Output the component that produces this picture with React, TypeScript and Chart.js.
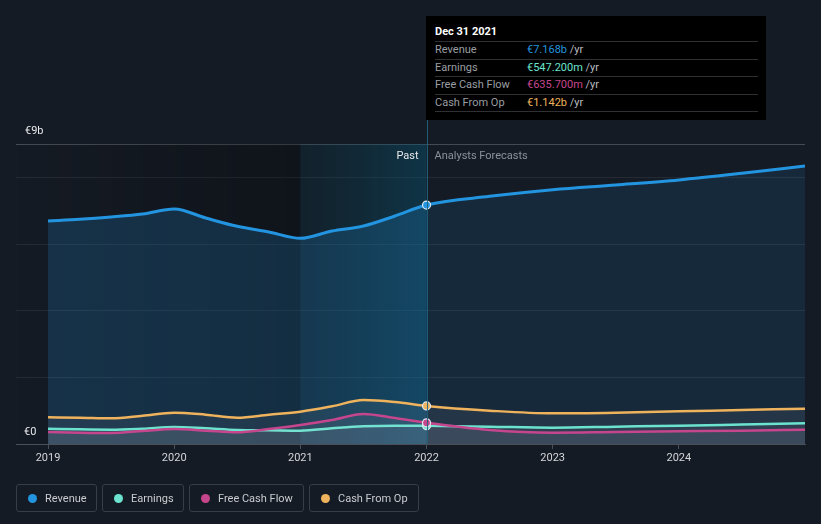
import React, { useEffect, useRef } from "react";
import { Chart, registerables } from "chart.js";

Chart.register(...registerables);

const years = [2019, 2019.25, 2019.5, 2019.75, 2020, 2020.25, 2020.5, 2020.75, 2021, 2021.25, 2021.5, 2021.75, 2022, 2022.5, 2023, 2023.5, 2024, 2024.5, 2025];
const revenue = [6.69, 6.74, 6.81, 6.9, 7.05, 6.78, 6.53, 6.36, 6.17, 6.39, 6.54, 6.84, 7.168, 7.43, 7.63, 7.77, 7.92, 8.12, 8.34];
const earnings = [0.46, 0.44, 0.43, 0.46, 0.51, 0.47, 0.42, 0.41, 0.4, 0.47, 0.53, 0.55, 0.547, 0.52, 0.49, 0.52, 0.55, 0.585, 0.62];
const freeCashFlow = [0.36, 0.34, 0.33, 0.39, 0.45, 0.4, 0.35, 0.45, 0.57, 0.72, 0.9, 0.78, 0.636, 0.42, 0.34, 0.36, 0.38, 0.4, 0.43];
const cashFromOp = [0.8, 0.79, 0.77, 0.85, 0.94, 0.88, 0.79, 0.88, 0.97, 1.13, 1.32, 1.26, 1.142, 1.0, 0.92, 0.94, 0.98, 1.02, 1.06];
const xTicks = [2019, 2020, 2021, 2022, 2023, 2024];
const yGrid = [0, 2, 4, 6, 8, 9];
const highlightYear = 2022;
const bandStart = 2021;

const seriesNames = ["Revenue", "Earnings", "Free Cash Flow", "Cash From Op"];
const seriesColors = ["#2394df", "#6ce3cf", "#c6468d", "#efb35d"];
const tooltipValues = ["€7.168b", "€547.200m", "€635.700m", "€1.142b"];
const legendWidths = [81, 82, 115, 110];

const BG = "#151b24";
const FONT = "Roboto, 'Noto Sans', sans-serif";

export default function App() {
  const canvasRef = useRef<HTMLCanvasElement | null>(null);

  useEffect(() => {
    document.body.style.margin = "0";
    document.body.style.background = BG;
    const canvas = canvasRef.current!;
    const toPts = (arr: number[]) => arr.map((v, i) => ({ x: years[i], y: v }));

    const overlay = {
      id: "overlay",
      beforeDatasetsDraw(chart: any) {
        const { ctx, chartArea, scales } = chart;
        const x = scales.x;
        const xb = x.getPixelForValue(bandStart);
        const xh = x.getPixelForValue(highlightYear);
        ctx.save();
        let g = ctx.createLinearGradient(chartArea.left, 0, xb, 0);
        g.addColorStop(0, "rgba(0,0,0,0)");
        g.addColorStop(1, "rgba(0,0,0,0.25)");
        ctx.fillStyle = g;
        ctx.fillRect(chartArea.left, chartArea.top, xb - chartArea.left, chartArea.bottom - chartArea.top);
        g = ctx.createLinearGradient(xb, 0, xh, 0);
        g.addColorStop(0, "rgba(10,60,80,0.2)");
        g.addColorStop(1, "rgba(8,90,120,0.42)");
        ctx.fillStyle = g;
        ctx.fillRect(xb, chartArea.top, xh - xb, chartArea.bottom - chartArea.top);
        ctx.restore();
      },
      afterDatasetsDraw(chart: any) {
        const { ctx, chartArea, scales } = chart;
        const xh = scales.x.getPixelForValue(highlightYear);
        ctx.save();
        ctx.strokeStyle = "rgba(30,100,125,0.9)";
        ctx.lineWidth = 1;
        ctx.beginPath();
        ctx.moveTo(Math.round(xh) + 0.5, 120);
        ctx.lineTo(Math.round(xh) + 0.5, chartArea.bottom);
        ctx.stroke();
        ctx.font = `11px ${FONT}`;
        ctx.textBaseline = "middle";
        ctx.fillStyle = "#e6e8ea";
        ctx.textAlign = "left";
        ctx.fillText("€9b", 25, 131);
        ctx.fillText("€0", 24, 432);
        ctx.textAlign = "right";
        ctx.fillText("Past", xh - 8, 156);
        ctx.textAlign = "left";
        ctx.fillStyle = "#8b9199";
        ctx.fillText("Analysts Forecasts", xh + 8, 156);
        ctx.restore();
      },
    };

    const revFill = (c: any) => {
      const chart = c.chart;
      const area = chart.chartArea;
      if (!area) return "rgba(35,148,223,0.15)";
      const xh = chart.scales.x.getPixelForValue(highlightYear);
      const t = (xh - area.left) / (area.right - area.left);
      const g = chart.ctx.createLinearGradient(area.left, 0, area.right, 0);
      g.addColorStop(0, "rgba(35,148,223,0.2)");
      g.addColorStop(t, "rgba(35,148,223,0.2)");
      g.addColorStop(Math.min(1, t + 0.001), "rgba(35,148,223,0.12)");
      g.addColorStop(1, "rgba(35,148,223,0.12)");
      return g;
    };

    const pointR = (c: any) => (c.raw && c.raw.x === highlightYear ? 4 : 0);

    const mk = (label: string, data: number[], color: string, fill: any, width: number, order: number) => ({
      label,
      data: toPts(data),
      borderColor: color,
      backgroundColor: fill,
      fill: "origin",
      borderWidth: width,
      pointRadius: pointR,
      pointHoverRadius: pointR,
      pointBackgroundColor: color,
      pointBorderColor: "#dbe8f0",
      pointBorderWidth: 1.2,
      cubicInterpolationMode: "monotone" as const,
      order,
    });

    const chart = new Chart(canvas, {
      type: "line",
      data: {
        datasets: [
          mk(seriesNames[2], freeCashFlow, seriesColors[2], "rgba(210,210,220,0.07)", 2.5, 1),
          mk(seriesNames[1], earnings, seriesColors[1], "rgba(210,210,220,0.07)", 2.5, 2),
          mk(seriesNames[3], cashFromOp, seriesColors[3], "rgba(210,210,220,0.07)", 2.5, 3),
          mk(seriesNames[0], revenue, seriesColors[0], revFill, 3, 4),
        ],
      },
      options: {
        responsive: false,
        animation: false,
        devicePixelRatio: 1,
        layout: { padding: { left: 16, right: 16, top: 144, bottom: 0 } },
        plugins: { legend: { display: false }, tooltip: { enabled: false } },
        events: [],
        scales: {
          x: {
            type: "linear",
            min: 2018.746,
            max: 2025,
            afterBuildTicks: (s: any) => {
              s.ticks = xTicks.map((v) => ({ value: v }));
            },
            afterFit: (s: any) => {
              s.height = 80;
            },
            ticks: {
              color: "#d4d6d9",
              font: { size: 11, family: FONT },
              padding: 3,
              maxRotation: 0,
              autoSkip: false,
              callback: (v: any) => String(v),
            },
            grid: { drawOnChartArea: false, drawTicks: true, tickLength: 5, color: "#4b5058" },
            border: { display: true, color: "#4b5058", width: 1 },
          },
          y: {
            min: 0,
            max: 9,
            afterBuildTicks: (s: any) => {
              s.ticks = yGrid.map((v) => ({ value: v }));
            },
            afterFit: (s: any) => {
              s.width = 0;
            },
            ticks: { display: false },
            grid: {
              drawTicks: false,
              color: (c: any) => (c.tick && c.tick.value === 9 ? "#454a52" : c.tick && c.tick.value === 0 ? "#4b5058" : "#252b34"),
            },
            border: { display: false },
          },
        },
      },
      plugins: [overlay],
    });
    return () => chart.destroy();
  }, []);

  const rowTop = 25;
  return (
    <div style={{ position: "fixed", left: 0, top: 0, width: 821, height: 524, background: BG, fontFamily: FONT, overflow: "hidden" }}>
      <canvas ref={canvasRef} width={821} height={524} style={{ position: "absolute", left: 0, top: 0, width: 821, height: 524 }} />
      <div style={{ position: "absolute", left: 426, top: 16, width: 340, height: 104, background: "#000", fontSize: 11 }}>
        <div style={{ position: "absolute", left: 9, top: 7, lineHeight: "17px", color: "#fff", fontWeight: 700 }}>Dec 31 2021</div>
        {seriesNames.map((n, i) => (
          <div
            key={n}
            style={{
              position: "absolute",
              left: 9,
              right: 8,
              top: rowTop + i * 17.5,
              height: 16.5,
              lineHeight: "16.5px",
              borderTop: "1px solid #2e3033",
              color: "#9a9ea3",
            }}
          >
            <span style={{ position: "absolute", left: 0 }}>{n}</span>
            <span style={{ position: "absolute", left: 92 }}>
              <span style={{ color: seriesColors[i] }}>{tooltipValues[i]}</span>
              <span style={{ color: "#b9bcc0" }}> /yr</span>
            </span>
          </div>
        ))}
        <div style={{ position: "absolute", left: 9, right: 8, top: rowTop + 4 * 17.5, borderTop: "1px solid #2e3033" }} />
      </div>
      <div style={{ position: "absolute", left: 16, top: 484, display: "flex", gap: 5 }}>
        {seriesNames.map((n, i) => (
          <div
            key={n}
            style={{
              boxSizing: "border-box",
              width: legendWidths[i],
              height: 28,
              border: "1px solid #383d46",
              borderRadius: 3,
              display: "flex",
              alignItems: "center",
              padding: "0 0 0 11px",
              color: "#c9ccd0",
              fontSize: 11,
              whiteSpace: "nowrap",
            }}
          >
            <span style={{ width: 9, height: 9, borderRadius: "50%", background: seriesColors[i], marginRight: 8, display: "inline-block", flex: "none" }} />
            {n}
          </div>
        ))}
      </div>
    </div>
  );
}
